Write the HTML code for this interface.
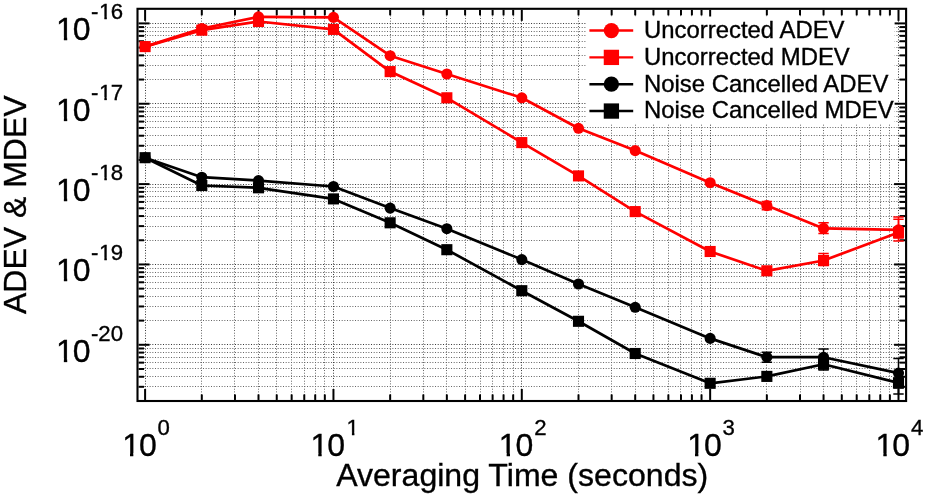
<!DOCTYPE html>
<html><head><meta charset="utf-8"><title>ADEV &amp; MDEV</title>
<style>html,body{margin:0;padding:0;background:#fff;}body{width:925px;height:496px;overflow:hidden;}svg{display:block;will-change:transform;}text{font-family:"Liberation Sans",sans-serif;fill:#000;stroke:#000;stroke-width:0.35px;}</style></head><body>
<svg width="925" height="496" viewBox="0 0 925 496">
<rect x="0" y="0" width="925" height="496" fill="#ffffff"/>
<g>
<g stroke="#646464" stroke-width="1" stroke-dasharray="1 1.667" fill="none">
<line x1="201.5" y1="10" x2="201.5" y2="400"/>
<line x1="234.5" y1="10" x2="234.5" y2="400"/>
<line x1="258.5" y1="10" x2="258.5" y2="400"/>
<line x1="276.5" y1="10" x2="276.5" y2="400"/>
<line x1="291.5" y1="10" x2="291.5" y2="400"/>
<line x1="304.5" y1="10" x2="304.5" y2="400"/>
<line x1="315.5" y1="10" x2="315.5" y2="400"/>
<line x1="324.5" y1="10" x2="324.5" y2="400"/>
<line x1="390.5" y1="10" x2="390.5" y2="400"/>
<line x1="423.5" y1="10" x2="423.5" y2="400"/>
<line x1="446.5" y1="10" x2="446.5" y2="400"/>
<line x1="465.5" y1="10" x2="465.5" y2="400"/>
<line x1="480.5" y1="10" x2="480.5" y2="400"/>
<line x1="492.5" y1="10" x2="492.5" y2="400"/>
<line x1="503.5" y1="10" x2="503.5" y2="400"/>
<line x1="513.5" y1="10" x2="513.5" y2="400"/>
<line x1="578.5" y1="10" x2="578.5" y2="400"/>
<line x1="611.5" y1="10" x2="611.5" y2="400"/>
<line x1="635.5" y1="10" x2="635.5" y2="400"/>
<line x1="653.5" y1="10" x2="653.5" y2="400"/>
<line x1="668.5" y1="10" x2="668.5" y2="400"/>
<line x1="680.5" y1="10" x2="680.5" y2="400"/>
<line x1="691.5" y1="10" x2="691.5" y2="400"/>
<line x1="701.5" y1="10" x2="701.5" y2="400"/>
<line x1="766.5" y1="10" x2="766.5" y2="400"/>
<line x1="800.5" y1="10" x2="800.5" y2="400"/>
<line x1="823.5" y1="10" x2="823.5" y2="400"/>
<line x1="841.5" y1="10" x2="841.5" y2="400"/>
<line x1="856.5" y1="10" x2="856.5" y2="400"/>
<line x1="869.5" y1="10" x2="869.5" y2="400"/>
<line x1="880.5" y1="10" x2="880.5" y2="400"/>
<line x1="889.5" y1="10" x2="889.5" y2="400"/>
<line x1="139" y1="386.5" x2="905" y2="386.5"/>
<line x1="139" y1="376.5" x2="905" y2="376.5"/>
<line x1="139" y1="368.5" x2="905" y2="368.5"/>
<line x1="139" y1="362.5" x2="905" y2="362.5"/>
<line x1="139" y1="357.5" x2="905" y2="357.5"/>
<line x1="139" y1="352.5" x2="905" y2="352.5"/>
<line x1="139" y1="348.5" x2="905" y2="348.5"/>
<line x1="139" y1="320.5" x2="905" y2="320.5"/>
<line x1="139" y1="306.5" x2="905" y2="306.5"/>
<line x1="139" y1="296.5" x2="905" y2="296.5"/>
<line x1="139" y1="288.5" x2="905" y2="288.5"/>
<line x1="139" y1="282.5" x2="905" y2="282.5"/>
<line x1="139" y1="276.5" x2="905" y2="276.5"/>
<line x1="139" y1="272.5" x2="905" y2="272.5"/>
<line x1="139" y1="268.5" x2="905" y2="268.5"/>
<line x1="139" y1="240.5" x2="905" y2="240.5"/>
<line x1="139" y1="226.5" x2="905" y2="226.5"/>
<line x1="139" y1="216.5" x2="905" y2="216.5"/>
<line x1="139" y1="208.5" x2="905" y2="208.5"/>
<line x1="139" y1="201.5" x2="905" y2="201.5"/>
<line x1="139" y1="196.5" x2="905" y2="196.5"/>
<line x1="139" y1="191.5" x2="905" y2="191.5"/>
<line x1="139" y1="187.5" x2="905" y2="187.5"/>
<line x1="139" y1="159.5" x2="905" y2="159.5"/>
<line x1="139" y1="145.5" x2="905" y2="145.5"/>
<line x1="139" y1="135.5" x2="905" y2="135.5"/>
<line x1="139" y1="127.5" x2="905" y2="127.5"/>
<line x1="139" y1="121.5" x2="905" y2="121.5"/>
<line x1="139" y1="116.5" x2="905" y2="116.5"/>
<line x1="139" y1="111.5" x2="905" y2="111.5"/>
<line x1="139" y1="107.5" x2="905" y2="107.5"/>
<line x1="139" y1="79.5" x2="905" y2="79.5"/>
<line x1="139" y1="65.5" x2="905" y2="65.5"/>
<line x1="139" y1="55.5" x2="905" y2="55.5"/>
<line x1="139" y1="47.5" x2="905" y2="47.5"/>
<line x1="139" y1="41.5" x2="905" y2="41.5"/>
<line x1="139" y1="35.5" x2="905" y2="35.5"/>
<line x1="139" y1="31.5" x2="905" y2="31.5"/>
<line x1="139" y1="27.5" x2="905" y2="27.5"/>
</g>
<g stroke="#363636" stroke-width="1" stroke-dasharray="1 1.667" fill="none">
<line x1="145.5" y1="10" x2="145.5" y2="400"/>
<line x1="333.5" y1="10" x2="333.5" y2="400"/>
<line x1="521.5" y1="10" x2="521.5" y2="400"/>
<line x1="710.5" y1="10" x2="710.5" y2="400"/>
<line x1="898.5" y1="10" x2="898.5" y2="400"/>
<line x1="139" y1="344.5" x2="905" y2="344.5"/>
<line x1="139" y1="264.5" x2="905" y2="264.5"/>
<line x1="139" y1="184.5" x2="905" y2="184.5"/>
<line x1="139" y1="103.5" x2="905" y2="103.5"/>
<line x1="139" y1="23.5" x2="905" y2="23.5"/>
</g>
</g>
<g stroke="#000" stroke-width="2" fill="none">
<line x1="145.1" y1="9.85" x2="145.1" y2="20.85"/>
<line x1="145.1" y1="399.95" x2="145.1" y2="388.95"/>
<line x1="333.45" y1="9.85" x2="333.45" y2="20.85"/>
<line x1="333.45" y1="399.95" x2="333.45" y2="388.95"/>
<line x1="521.8" y1="9.85" x2="521.8" y2="20.85"/>
<line x1="521.8" y1="399.95" x2="521.8" y2="388.95"/>
<line x1="710.15" y1="9.85" x2="710.15" y2="20.85"/>
<line x1="710.15" y1="399.95" x2="710.15" y2="388.95"/>
<line x1="898.5" y1="9.85" x2="898.5" y2="20.85"/>
<line x1="898.5" y1="399.95" x2="898.5" y2="388.95"/>
<line x1="201.8" y1="9.85" x2="201.8" y2="15.35"/>
<line x1="201.8" y1="399.95" x2="201.8" y2="394.45"/>
<line x1="234.97" y1="9.85" x2="234.97" y2="15.35"/>
<line x1="234.97" y1="399.95" x2="234.97" y2="394.45"/>
<line x1="258.5" y1="9.85" x2="258.5" y2="15.35"/>
<line x1="258.5" y1="399.95" x2="258.5" y2="394.45"/>
<line x1="276.75" y1="9.85" x2="276.75" y2="15.35"/>
<line x1="276.75" y1="399.95" x2="276.75" y2="394.45"/>
<line x1="291.66" y1="9.85" x2="291.66" y2="15.35"/>
<line x1="291.66" y1="399.95" x2="291.66" y2="394.45"/>
<line x1="304.27" y1="9.85" x2="304.27" y2="15.35"/>
<line x1="304.27" y1="399.95" x2="304.27" y2="394.45"/>
<line x1="315.2" y1="9.85" x2="315.2" y2="15.35"/>
<line x1="315.2" y1="399.95" x2="315.2" y2="394.45"/>
<line x1="324.83" y1="9.85" x2="324.83" y2="15.35"/>
<line x1="324.83" y1="399.95" x2="324.83" y2="394.45"/>
<line x1="390.15" y1="9.85" x2="390.15" y2="15.35"/>
<line x1="390.15" y1="399.95" x2="390.15" y2="394.45"/>
<line x1="423.32" y1="9.85" x2="423.32" y2="15.35"/>
<line x1="423.32" y1="399.95" x2="423.32" y2="394.45"/>
<line x1="446.85" y1="9.85" x2="446.85" y2="15.35"/>
<line x1="446.85" y1="399.95" x2="446.85" y2="394.45"/>
<line x1="465.1" y1="9.85" x2="465.1" y2="15.35"/>
<line x1="465.1" y1="399.95" x2="465.1" y2="394.45"/>
<line x1="480.01" y1="9.85" x2="480.01" y2="15.35"/>
<line x1="480.01" y1="399.95" x2="480.01" y2="394.45"/>
<line x1="492.62" y1="9.85" x2="492.62" y2="15.35"/>
<line x1="492.62" y1="399.95" x2="492.62" y2="394.45"/>
<line x1="503.55" y1="9.85" x2="503.55" y2="15.35"/>
<line x1="503.55" y1="399.95" x2="503.55" y2="394.45"/>
<line x1="513.18" y1="9.85" x2="513.18" y2="15.35"/>
<line x1="513.18" y1="399.95" x2="513.18" y2="394.45"/>
<line x1="578.5" y1="9.85" x2="578.5" y2="15.35"/>
<line x1="578.5" y1="399.95" x2="578.5" y2="394.45"/>
<line x1="611.67" y1="9.85" x2="611.67" y2="15.35"/>
<line x1="611.67" y1="399.95" x2="611.67" y2="394.45"/>
<line x1="635.2" y1="9.85" x2="635.2" y2="15.35"/>
<line x1="635.2" y1="399.95" x2="635.2" y2="394.45"/>
<line x1="653.45" y1="9.85" x2="653.45" y2="15.35"/>
<line x1="653.45" y1="399.95" x2="653.45" y2="394.45"/>
<line x1="668.36" y1="9.85" x2="668.36" y2="15.35"/>
<line x1="668.36" y1="399.95" x2="668.36" y2="394.45"/>
<line x1="680.97" y1="9.85" x2="680.97" y2="15.35"/>
<line x1="680.97" y1="399.95" x2="680.97" y2="394.45"/>
<line x1="691.9" y1="9.85" x2="691.9" y2="15.35"/>
<line x1="691.9" y1="399.95" x2="691.9" y2="394.45"/>
<line x1="701.53" y1="9.85" x2="701.53" y2="15.35"/>
<line x1="701.53" y1="399.95" x2="701.53" y2="394.45"/>
<line x1="766.85" y1="9.85" x2="766.85" y2="15.35"/>
<line x1="766.85" y1="399.95" x2="766.85" y2="394.45"/>
<line x1="800.02" y1="9.85" x2="800.02" y2="15.35"/>
<line x1="800.02" y1="399.95" x2="800.02" y2="394.45"/>
<line x1="823.55" y1="9.85" x2="823.55" y2="15.35"/>
<line x1="823.55" y1="399.95" x2="823.55" y2="394.45"/>
<line x1="841.8" y1="9.85" x2="841.8" y2="15.35"/>
<line x1="841.8" y1="399.95" x2="841.8" y2="394.45"/>
<line x1="856.71" y1="9.85" x2="856.71" y2="15.35"/>
<line x1="856.71" y1="399.95" x2="856.71" y2="394.45"/>
<line x1="869.32" y1="9.85" x2="869.32" y2="15.35"/>
<line x1="869.32" y1="399.95" x2="869.32" y2="394.45"/>
<line x1="880.25" y1="9.85" x2="880.25" y2="15.35"/>
<line x1="880.25" y1="399.95" x2="880.25" y2="394.45"/>
<line x1="889.88" y1="9.85" x2="889.88" y2="15.35"/>
<line x1="889.88" y1="399.95" x2="889.88" y2="394.45"/>
<line x1="138.55" y1="344.8" x2="149.55" y2="344.8"/>
<line x1="905.05" y1="344.8" x2="894.05" y2="344.8"/>
<line x1="138.55" y1="264.45" x2="149.55" y2="264.45"/>
<line x1="905.05" y1="264.45" x2="894.05" y2="264.45"/>
<line x1="138.55" y1="184.1" x2="149.55" y2="184.1"/>
<line x1="905.05" y1="184.1" x2="894.05" y2="184.1"/>
<line x1="138.55" y1="103.75" x2="149.55" y2="103.75"/>
<line x1="905.05" y1="103.75" x2="894.05" y2="103.75"/>
<line x1="138.55" y1="23.4" x2="149.55" y2="23.4"/>
<line x1="905.05" y1="23.4" x2="894.05" y2="23.4"/>
<line x1="138.55" y1="386.81" x2="144.05" y2="386.81"/>
<line x1="905.05" y1="386.81" x2="899.55" y2="386.81"/>
<line x1="138.55" y1="376.77" x2="144.05" y2="376.77"/>
<line x1="905.05" y1="376.77" x2="899.55" y2="376.77"/>
<line x1="138.55" y1="368.99" x2="144.05" y2="368.99"/>
<line x1="905.05" y1="368.99" x2="899.55" y2="368.99"/>
<line x1="138.55" y1="362.63" x2="144.05" y2="362.63"/>
<line x1="905.05" y1="362.63" x2="899.55" y2="362.63"/>
<line x1="138.55" y1="357.25" x2="144.05" y2="357.25"/>
<line x1="905.05" y1="357.25" x2="899.55" y2="357.25"/>
<line x1="138.55" y1="352.59" x2="144.05" y2="352.59"/>
<line x1="905.05" y1="352.59" x2="899.55" y2="352.59"/>
<line x1="138.55" y1="348.48" x2="144.05" y2="348.48"/>
<line x1="905.05" y1="348.48" x2="899.55" y2="348.48"/>
<line x1="138.55" y1="320.61" x2="144.05" y2="320.61"/>
<line x1="905.05" y1="320.61" x2="899.55" y2="320.61"/>
<line x1="138.55" y1="306.46" x2="144.05" y2="306.46"/>
<line x1="905.05" y1="306.46" x2="899.55" y2="306.46"/>
<line x1="138.55" y1="296.42" x2="144.05" y2="296.42"/>
<line x1="905.05" y1="296.42" x2="899.55" y2="296.42"/>
<line x1="138.55" y1="288.64" x2="144.05" y2="288.64"/>
<line x1="905.05" y1="288.64" x2="899.55" y2="288.64"/>
<line x1="138.55" y1="282.28" x2="144.05" y2="282.28"/>
<line x1="905.05" y1="282.28" x2="899.55" y2="282.28"/>
<line x1="138.55" y1="276.9" x2="144.05" y2="276.9"/>
<line x1="905.05" y1="276.9" x2="899.55" y2="276.9"/>
<line x1="138.55" y1="272.24" x2="144.05" y2="272.24"/>
<line x1="905.05" y1="272.24" x2="899.55" y2="272.24"/>
<line x1="138.55" y1="268.13" x2="144.05" y2="268.13"/>
<line x1="905.05" y1="268.13" x2="899.55" y2="268.13"/>
<line x1="138.55" y1="240.26" x2="144.05" y2="240.26"/>
<line x1="905.05" y1="240.26" x2="899.55" y2="240.26"/>
<line x1="138.55" y1="226.11" x2="144.05" y2="226.11"/>
<line x1="905.05" y1="226.11" x2="899.55" y2="226.11"/>
<line x1="138.55" y1="216.07" x2="144.05" y2="216.07"/>
<line x1="905.05" y1="216.07" x2="899.55" y2="216.07"/>
<line x1="138.55" y1="208.29" x2="144.05" y2="208.29"/>
<line x1="905.05" y1="208.29" x2="899.55" y2="208.29"/>
<line x1="138.55" y1="201.93" x2="144.05" y2="201.93"/>
<line x1="905.05" y1="201.93" x2="899.55" y2="201.93"/>
<line x1="138.55" y1="196.55" x2="144.05" y2="196.55"/>
<line x1="905.05" y1="196.55" x2="899.55" y2="196.55"/>
<line x1="138.55" y1="191.89" x2="144.05" y2="191.89"/>
<line x1="905.05" y1="191.89" x2="899.55" y2="191.89"/>
<line x1="138.55" y1="187.78" x2="144.05" y2="187.78"/>
<line x1="905.05" y1="187.78" x2="899.55" y2="187.78"/>
<line x1="138.55" y1="159.91" x2="144.05" y2="159.91"/>
<line x1="905.05" y1="159.91" x2="899.55" y2="159.91"/>
<line x1="138.55" y1="145.76" x2="144.05" y2="145.76"/>
<line x1="905.05" y1="145.76" x2="899.55" y2="145.76"/>
<line x1="138.55" y1="135.72" x2="144.05" y2="135.72"/>
<line x1="905.05" y1="135.72" x2="899.55" y2="135.72"/>
<line x1="138.55" y1="127.94" x2="144.05" y2="127.94"/>
<line x1="905.05" y1="127.94" x2="899.55" y2="127.94"/>
<line x1="138.55" y1="121.58" x2="144.05" y2="121.58"/>
<line x1="905.05" y1="121.58" x2="899.55" y2="121.58"/>
<line x1="138.55" y1="116.2" x2="144.05" y2="116.2"/>
<line x1="905.05" y1="116.2" x2="899.55" y2="116.2"/>
<line x1="138.55" y1="111.54" x2="144.05" y2="111.54"/>
<line x1="905.05" y1="111.54" x2="899.55" y2="111.54"/>
<line x1="138.55" y1="107.43" x2="144.05" y2="107.43"/>
<line x1="905.05" y1="107.43" x2="899.55" y2="107.43"/>
<line x1="138.55" y1="79.56" x2="144.05" y2="79.56"/>
<line x1="905.05" y1="79.56" x2="899.55" y2="79.56"/>
<line x1="138.55" y1="65.41" x2="144.05" y2="65.41"/>
<line x1="905.05" y1="65.41" x2="899.55" y2="65.41"/>
<line x1="138.55" y1="55.37" x2="144.05" y2="55.37"/>
<line x1="905.05" y1="55.37" x2="899.55" y2="55.37"/>
<line x1="138.55" y1="47.59" x2="144.05" y2="47.59"/>
<line x1="905.05" y1="47.59" x2="899.55" y2="47.59"/>
<line x1="138.55" y1="41.23" x2="144.05" y2="41.23"/>
<line x1="905.05" y1="41.23" x2="899.55" y2="41.23"/>
<line x1="138.55" y1="35.85" x2="144.05" y2="35.85"/>
<line x1="905.05" y1="35.85" x2="899.55" y2="35.85"/>
<line x1="138.55" y1="31.19" x2="144.05" y2="31.19"/>
<line x1="905.05" y1="31.19" x2="899.55" y2="31.19"/>
<line x1="138.55" y1="27.08" x2="144.05" y2="27.08"/>
<line x1="905.05" y1="27.08" x2="899.55" y2="27.08"/>
</g>
<rect x="137.5" y="8.8" width="768.6" height="392.2" fill="none" stroke="#000" stroke-width="2.1"/>
<g stroke="#ff0000" fill="#ff0000">
<polyline points="145.1,46.6 201.8,28.5 258.5,16.8 333.45,17.4 390.15,55.7 446.85,74 521.8,97.8 578.5,128.3 635.2,150.6 710.15,182.7 766.85,205.6 823.55,228.4 898.5,229.9" fill="none" stroke-width="2.7" stroke-linejoin="round"/>
<path d="M766.85 201.6V209.8M761.65 201.6H772.05M761.65 209.8H772.05" fill="none" stroke-width="1.5"/>
<path d="M823.55 222.8V233.6M818.35 222.8H828.75M818.35 233.6H828.75" fill="none" stroke-width="1.5"/>
<path d="M898.5 216.9V240.9M893.3 216.9H903.7M893.3 240.9H903.7" fill="none" stroke-width="1.5"/>
<circle cx="145.1" cy="46.6" r="5.55" stroke="none"/>
<circle cx="201.8" cy="28.5" r="5.55" stroke="none"/>
<circle cx="258.5" cy="16.8" r="5.55" stroke="none"/>
<circle cx="333.45" cy="17.4" r="5.55" stroke="none"/>
<circle cx="390.15" cy="55.7" r="5.55" stroke="none"/>
<circle cx="446.85" cy="74" r="5.55" stroke="none"/>
<circle cx="521.8" cy="97.8" r="5.55" stroke="none"/>
<circle cx="578.5" cy="128.3" r="5.55" stroke="none"/>
<circle cx="635.2" cy="150.6" r="5.55" stroke="none"/>
<circle cx="710.15" cy="182.7" r="5.55" stroke="none"/>
<circle cx="766.85" cy="205.6" r="5.55" stroke="none"/>
<circle cx="823.55" cy="228.4" r="5.55" stroke="none"/>
<circle cx="898.5" cy="229.9" r="5.55" stroke="none"/>
</g>
<g stroke="#ff0000" fill="#ff0000">
<polyline points="145.1,46.6 201.8,30.2 258.5,21.5 333.45,29.4 390.15,71.6 446.85,97.8 521.8,142.6 578.5,175.9 635.2,211.6 710.15,251.5 766.85,270.8 823.55,260.5 898.5,232.6" fill="none" stroke-width="2.7" stroke-linejoin="round"/>
<path d="M823.55 253.5V265.5M818.35 253.5H828.75M818.35 265.5H828.75" fill="none" stroke-width="1.5"/>
<path d="M898.5 219.2V238M893.3 219.2H903.7M893.3 238H903.7" fill="none" stroke-width="1.5"/>
<rect x="139.55" y="41.05" width="11.1" height="11.1" stroke="none"/>
<rect x="196.25" y="24.65" width="11.1" height="11.1" stroke="none"/>
<rect x="252.95" y="15.95" width="11.1" height="11.1" stroke="none"/>
<rect x="327.9" y="23.85" width="11.1" height="11.1" stroke="none"/>
<rect x="384.6" y="66.05" width="11.1" height="11.1" stroke="none"/>
<rect x="441.3" y="92.25" width="11.1" height="11.1" stroke="none"/>
<rect x="516.25" y="137.05" width="11.1" height="11.1" stroke="none"/>
<rect x="572.95" y="170.35" width="11.1" height="11.1" stroke="none"/>
<rect x="629.65" y="206.05" width="11.1" height="11.1" stroke="none"/>
<rect x="704.6" y="245.95" width="11.1" height="11.1" stroke="none"/>
<rect x="761.3" y="265.25" width="11.1" height="11.1" stroke="none"/>
<rect x="818" y="254.95" width="11.1" height="11.1" stroke="none"/>
<rect x="892.95" y="227.05" width="11.1" height="11.1" stroke="none"/>
</g>
<g stroke="#000000" fill="#000000">
<polyline points="145.1,157.7 201.8,177.2 258.5,180.6 333.45,186.5 390.15,208.1 446.85,228.7 521.8,259.6 578.5,284 635.2,307.3 710.15,338.4 766.85,357.2 823.55,357.2 898.5,373.1" fill="none" stroke-width="2.7" stroke-linejoin="round"/>
<path d="M766.85 352.3V362.3M761.65 352.3H772.05M761.65 362.3H772.05" fill="none" stroke-width="1.5"/>
<path d="M823.55 349V365M818.35 349H828.75M818.35 365H828.75" fill="none" stroke-width="1.5"/>
<path d="M898.5 358.4V388M893.3 358.4H903.7M893.3 388H903.7" fill="none" stroke-width="1.5"/>
<circle cx="145.1" cy="157.7" r="5.55" stroke="none"/>
<circle cx="201.8" cy="177.2" r="5.55" stroke="none"/>
<circle cx="258.5" cy="180.6" r="5.55" stroke="none"/>
<circle cx="333.45" cy="186.5" r="5.55" stroke="none"/>
<circle cx="390.15" cy="208.1" r="5.55" stroke="none"/>
<circle cx="446.85" cy="228.7" r="5.55" stroke="none"/>
<circle cx="521.8" cy="259.6" r="5.55" stroke="none"/>
<circle cx="578.5" cy="284" r="5.55" stroke="none"/>
<circle cx="635.2" cy="307.3" r="5.55" stroke="none"/>
<circle cx="710.15" cy="338.4" r="5.55" stroke="none"/>
<circle cx="766.85" cy="357.2" r="5.55" stroke="none"/>
<circle cx="823.55" cy="357.2" r="5.55" stroke="none"/>
<circle cx="898.5" cy="373.1" r="5.55" stroke="none"/>
</g>
<g stroke="#000000" fill="#000000">
<polyline points="145.1,157.7 201.8,185.5 258.5,187.8 333.45,198.9 390.15,222.8 446.85,249.7 521.8,290.7 578.5,321.3 635.2,353.5 710.15,383.3 766.85,376.4 823.55,364.3 898.5,382.9" fill="none" stroke-width="2.7" stroke-linejoin="round"/>
<path d="M823.55 359V370M818.35 359H828.75M818.35 370H828.75" fill="none" stroke-width="1.5"/>
<path d="M898.5 378V393.9M893.3 378H903.7M893.3 393.9H903.7" fill="none" stroke-width="1.5"/>
<rect x="139.55" y="152.15" width="11.1" height="11.1" stroke="none"/>
<rect x="196.25" y="179.95" width="11.1" height="11.1" stroke="none"/>
<rect x="252.95" y="182.25" width="11.1" height="11.1" stroke="none"/>
<rect x="327.9" y="193.35" width="11.1" height="11.1" stroke="none"/>
<rect x="384.6" y="217.25" width="11.1" height="11.1" stroke="none"/>
<rect x="441.3" y="244.15" width="11.1" height="11.1" stroke="none"/>
<rect x="516.25" y="285.15" width="11.1" height="11.1" stroke="none"/>
<rect x="572.95" y="315.75" width="11.1" height="11.1" stroke="none"/>
<rect x="629.65" y="347.95" width="11.1" height="11.1" stroke="none"/>
<rect x="704.6" y="377.75" width="11.1" height="11.1" stroke="none"/>
<rect x="761.3" y="370.85" width="11.1" height="11.1" stroke="none"/>
<rect x="818" y="358.75" width="11.1" height="11.1" stroke="none"/>
<rect x="892.95" y="377.35" width="11.1" height="11.1" stroke="none"/>
</g>
<rect x="586.2" y="16.5" width="308.4" height="107.2" fill="#ffffff"/>
<line x1="589.4" y1="30.55" x2="633.2" y2="30.55" stroke="#ff0000" stroke-width="2.4"/>
<circle cx="611.4" cy="30.55" r="7.65" fill="#ff0000"/>
<text x="644" y="37.95" font-size="23.9">Uncorrected ADEV</text>
<line x1="589.4" y1="57.4" x2="633.2" y2="57.4" stroke="#ff0000" stroke-width="2.4"/>
<rect x="603.75" y="49.75" width="15.3" height="15.3" fill="#ff0000"/>
<text x="644" y="64.8" font-size="23.9">Uncorrected MDEV</text>
<line x1="589.4" y1="84.2" x2="633.2" y2="84.2" stroke="#000000" stroke-width="2.4"/>
<circle cx="611.4" cy="84.2" r="7.65" fill="#000000"/>
<text x="644" y="91.6" font-size="23.9">Noise Cancelled ADEV</text>
<line x1="589.4" y1="111.05" x2="633.2" y2="111.05" stroke="#000000" stroke-width="2.4"/>
<rect x="603.75" y="103.4" width="15.3" height="15.3" fill="#000000"/>
<text x="644" y="118.45" font-size="23.9">Noise Cancelled MDEV</text>
<defs>
<clipPath id="c1a"><path d="M-3 -32H32V-3.39H-3ZM7.8 -3.89H11.12V1H7.8Z"/></clipPath>
<clipPath id="c1b"><path d="M-3 -22.2H22.2V-2.66H-3ZM5.33 -3.16H7.79V1H5.33Z"/></clipPath>
</defs>
<g transform="translate(56.07 361.7)"><text font-size="32" clip-path="url(#c1a)">1</text></g>
<text x="72.8" y="361.7" font-size="32">0</text>
<text x="90.9" y="340.7" font-size="22.2">-</text>
<text x="98.29" y="340.7" font-size="22.2">2</text>
<text x="110.64" y="340.7" font-size="22.2">0</text>
<g transform="translate(56.07 281.35)"><text font-size="32" clip-path="url(#c1a)">1</text></g>
<text x="72.8" y="281.35" font-size="32">0</text>
<text x="90.9" y="260.35" font-size="22.2">-</text>
<g transform="translate(99.03 260.35)"><text font-size="22.2" clip-path="url(#c1b)">1</text></g>
<text x="110.64" y="260.35" font-size="22.2">9</text>
<g transform="translate(56.07 201)"><text font-size="32" clip-path="url(#c1a)">1</text></g>
<text x="72.8" y="201" font-size="32">0</text>
<text x="90.9" y="180" font-size="22.2">-</text>
<g transform="translate(99.03 180)"><text font-size="22.2" clip-path="url(#c1b)">1</text></g>
<text x="110.64" y="180" font-size="22.2">8</text>
<g transform="translate(56.07 120.65)"><text font-size="32" clip-path="url(#c1a)">1</text></g>
<text x="72.8" y="120.65" font-size="32">0</text>
<text x="90.9" y="99.65" font-size="22.2">-</text>
<g transform="translate(99.03 99.65)"><text font-size="22.2" clip-path="url(#c1b)">1</text></g>
<text x="110.64" y="99.65" font-size="22.2">7</text>
<g transform="translate(56.07 40.3)"><text font-size="32" clip-path="url(#c1a)">1</text></g>
<text x="72.8" y="40.3" font-size="32">0</text>
<text x="90.9" y="19.3" font-size="22.2">-</text>
<g transform="translate(99.03 19.3)"><text font-size="22.2" clip-path="url(#c1b)">1</text></g>
<text x="110.64" y="19.3" font-size="22.2">6</text>
<g transform="translate(122.17 456.3)"><text font-size="32" clip-path="url(#c1a)">1</text></g>
<text x="138.9" y="456.3" font-size="32">0</text>
<text x="157.5" y="435.4" font-size="22.2">0</text>
<g transform="translate(310.52 456.3)"><text font-size="32" clip-path="url(#c1a)">1</text></g>
<text x="327.25" y="456.3" font-size="32">0</text>
<g transform="translate(346.59 435.4)"><text font-size="22.2" clip-path="url(#c1b)">1</text></g>
<g transform="translate(498.87 456.3)"><text font-size="32" clip-path="url(#c1a)">1</text></g>
<text x="515.6" y="456.3" font-size="32">0</text>
<text x="534.2" y="435.4" font-size="22.2">2</text>
<g transform="translate(687.22 456.3)"><text font-size="32" clip-path="url(#c1a)">1</text></g>
<text x="703.95" y="456.3" font-size="32">0</text>
<text x="722.55" y="435.4" font-size="22.2">3</text>
<g transform="translate(875.57 456.3)"><text font-size="32" clip-path="url(#c1a)">1</text></g>
<text x="892.3" y="456.3" font-size="32">0</text>
<text x="910.9" y="435.4" font-size="22.2">4</text>
<text x="522.2" y="486.0" font-size="32.1" text-anchor="middle">Averaging Time (seconds)</text>
<text transform="translate(26.2 204.7) rotate(-90)" font-size="32.0" text-anchor="middle">ADEV &amp; MDEV</text>
</svg></body></html>
